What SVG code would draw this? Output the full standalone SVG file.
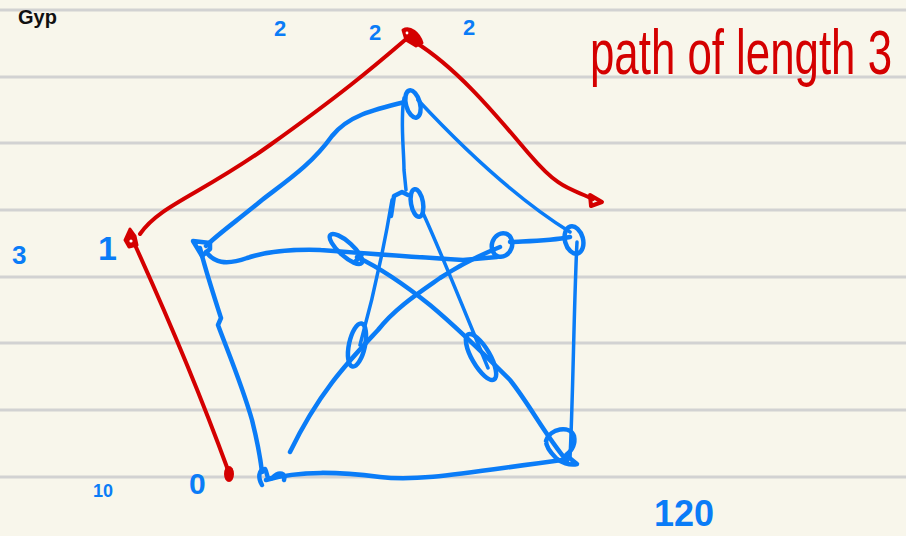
<svg xmlns="http://www.w3.org/2000/svg" width="906" height="536" viewBox="0 0 906 536">
<style>
.rule{stroke:#d2d2d2;stroke-width:3}
.b{fill:none;stroke:#0a7cf7;stroke-width:4.5;stroke-linecap:round;stroke-linejoin:round}
.bt{fill:none;stroke:#0a7cf7;stroke-width:3.5;stroke-linecap:round;stroke-linejoin:round}
.r{fill:none;stroke:#d40000;stroke-width:4;stroke-linecap:round;stroke-linejoin:round}
.rf{fill:#d40000;stroke:#d40000;stroke-width:3;stroke-linejoin:round}
.lb{font-family:"Liberation Sans",Arial,sans-serif;fill:#0a7cf7;font-weight:bold}
.lr{font-family:"Liberation Sans",Arial,sans-serif;fill:#d40000}
</style>
<rect width="906" height="536" fill="#f8f6eb"/>
<g id="rules">
<line class="rule" x1="0" y1="10" x2="906" y2="10"/>
<line class="rule" x1="0" y1="77" x2="906" y2="77"/>
<line class="rule" x1="0" y1="143" x2="906" y2="143"/>
<line class="rule" x1="0" y1="210" x2="906" y2="210"/>
<line class="rule" x1="0" y1="277" x2="906" y2="277"/>
<line class="rule" x1="0" y1="343" x2="906" y2="343"/>
<line class="rule" x1="0" y1="410" x2="906" y2="410"/>
<line class="rule" x1="0" y1="477" x2="906" y2="477"/>
</g>
<text x="18" y="24" font-family="Liberation Sans,sans-serif" font-size="20" font-weight="bold" fill="#111">Gyp</text>
<g id="connectors">
<!-- outer cycle -->
<path class="b" d="M405 102 C372 110 348 116 332 136 C312 164 288 180 262 200 C238 220 218 234 206 246"/>
<path class="bt" d="M418 100 C460 145 512 196 570 232"/>
<path class="b" d="M200 248 C206 272 214 296 221 318 L218 325 C228 352 242 385 252 420 C257 440 260 455 262 472"/>
<path class="bt" d="M577 242 C574 300 573 400 570 458"/>
<path class="b" d="M266 480 C300 470 340 472 380 477 C420 482 470 472 562 460"/>
<!-- spokes + inner star -->
<path class="bt" d="M404 98 C400 120 404 150 404 170 L406 190"/>
<path class="b" d="M206 252 C214 262 225 266 247 258 C265 252 285 249 320 250 C360 253 413 257 463 260 L497 257"/>
<path class="b" d="M510 242 C530 241 550 241 570 237"/>
<path class="b" d="M500 247 C480 255 463 263 440 278 C420 292 395 308 378 330 C350 360 320 390 290 452"/>
<path class="b" d="M357 257 C380 268 405 285 430 305 C460 330 490 360 510 380 C530 405 545 435 567 461"/>
<path class="bt" d="M392 200 C387 230 378 280 360 345"/>
<path class="bt" d="M423 213 C440 250 460 300 488 368"/>
<!-- loops -->
<ellipse class="b" cx="413" cy="104" rx="7" ry="14" transform="rotate(-15 413 104)"/>
<ellipse class="b" cx="417" cy="203" rx="6" ry="14" transform="rotate(-10 417 203)"/>
<path class="b" d="M391 216 L394 196 L402 192 L408 195"/>
<ellipse class="b" cx="346" cy="249" rx="21" ry="7" transform="rotate(42 346 249)"/>
<path class="b" d="M355 262 L362 254"/>
<ellipse class="b" cx="502" cy="245" rx="10" ry="12" transform="rotate(20 502 245)"/>
<ellipse class="b" cx="574" cy="240" rx="9" ry="14" transform="rotate(-15 574 240)"/>
<path class="b" d="M210 243 L193 241 L202 256 L210 249 Z"/>
<ellipse class="b" cx="357" cy="345" rx="8" ry="22" transform="rotate(12 357 345)"/>
<ellipse class="b" cx="481" cy="357" rx="9" ry="26" transform="rotate(-30 481 357)"/>
<path class="b" d="M546 441 C550 428 570 425 574 436 C576 446 570 452 566 455 L572 460 L577 464 C570 466 560 462 556 458 C550 452 546 446 546 441"/>
<path class="b" d="M262 485 C258 478 258 470 265 469 C268 474 266 480 272 478 C280 470 286 474 284 480"/>
<!-- red path -->
<path class="r" d="M140 234 C160 205 200 195 270 145 S370 70 405 40"/>
<path class="r" d="M415 42 C460 70 500 120 530 155 S570 188 593 199"/>
<path class="r" d="M135 245 C160 300 195 380 228 470"/>
<path class="rf" d="M130 229 L125 240 L129 247 L137 245 L135 236 Z"/>
<circle cx="131" cy="241" r="1.6" fill="#fff"/>
<path class="rf" d="M403 30 C410 26 419 33 422 43 L416 46 L406 40 Z"/>
<circle cx="407" cy="33" r="1.4" fill="#fff"/>
<path class="r" stroke-width="4.5" d="M590 195 L602 202 L591 206 Z"/>
<ellipse cx="229" cy="474" rx="5" ry="8" fill="#d40000"/>
</g>
<g id="labels">
<text class="lb" x="274" y="36" font-size="22">2</text>
<text class="lb" x="369" y="40" font-size="22">2</text>
<text class="lb" x="463" y="35" font-size="22">2</text>
<text class="lb" x="12" y="264" font-size="26">3</text>
<text class="lb" x="98" y="260" font-size="34">1</text>
<text class="lb" x="93" y="497" font-size="18">10</text>
<text class="lb" x="189" y="494" font-size="30">0</text>
<text class="lb" x="654" y="526" font-size="36">120</text>
<text class="lr" transform="translate(590 74) scale(1 1.45)" x="0" y="0" font-size="43" textLength="302" lengthAdjust="spacingAndGlyphs">path of length 3</text>
</g>
</svg>
